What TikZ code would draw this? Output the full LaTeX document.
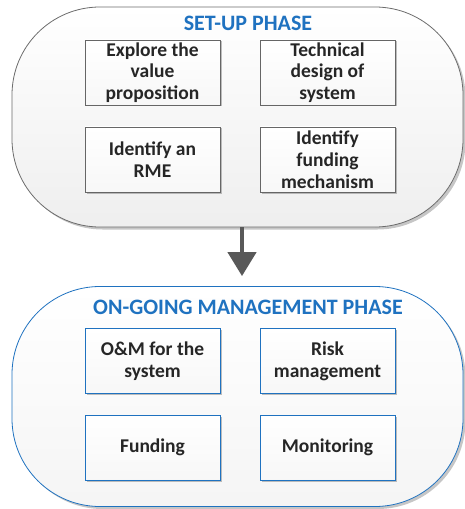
\documentclass[tikz,border=0pt]{standalone}
\usepackage{fontspec}
\setmainfont{Carlito}
\usetikzlibrary{shadows,arrows.meta}
\definecolor{phaseblue}{HTML}{1F72C0}
\definecolor{arrowgray}{HTML}{595959}
\tikzset{
  capsule/.style={draw, line width=0.8bp, rounded corners=88bp, minimum width=451bp, minimum height=220bp, inner sep=0pt,
     drop shadow={shadow xshift=2.5bp, shadow yshift=-2.5bp, opacity=0.45, fill=gray}},
  setupcap/.style={capsule, draw=gray!85!black, top color=white, bottom color=gray!13},
  ongoingcap/.style={capsule, draw=phaseblue, top color=white, bottom color=gray!8},
  phasetitle/.style={text=phaseblue, font=\fontsize{22bp}{25bp}\selectfont\bfseries, inner sep=0pt},
  taskbox/.style={minimum width=135bp, minimum height=65bp, inner sep=1bp, align=center,
     font=\fontsize{19.5bp}{21.8bp}\selectfont\bfseries, text=black!85,
     top color=white, bottom color=gray!6,
     drop shadow={shadow xshift=1.5bp, shadow yshift=-1.5bp, opacity=0.5, fill=gray}},
  setupbox/.style={taskbox, draw=gray!80!black, line width=0.7bp},
  ongoingbox/.style={taskbox, draw=phaseblue, line width=0.8bp},
  phasearrow/.style={draw=arrowgray, line width=4.5bp, -{Triangle[width=28bp,length=24bp]}, shorten >=10bp}
}
\begin{document}
\begin{tikzpicture}[x=1bp,y=-1bp]
\useasboundingbox (0,0) rectangle (465,509);
% set-up phase
\node[setupcap] (setup) at (237.5,117) {};
\node[phasetitle] (setuptitle) at (248,23) {SET-UP PHASE};
\node[setupbox] (explore) at (152.5,72.5) {Explore the\\value\\proposition};
\node[setupbox] (technical) at (327.5,72.5) {Technical\\design of\\system};
\node[setupbox] (rme) at (152.5,159.5) {Identify an\\RME};
\node[setupbox] (fundmech) at (327.5,159.5) {Identify\\funding\\mechanism};
% on-going phase
\node[ongoingcap] (ongoing) at (237.5,396.5) {};
\node[phasetitle] (ongoingtitle) at (248,307) {ON-GOING MANAGEMENT PHASE};
\node[ongoingbox] (om) at (152.5,361) {O\&M for the\\system};
\node[ongoingbox] (risk) at (327.5,361) {Risk\\management};
\node[ongoingbox] (funding) at (152.5,447.5) {Funding};
\node[ongoingbox] (monitoring) at (327.5,447.5) {Monitoring};
% arrow
\draw[phasearrow] (setup.south -| 242,0) -- (ongoing.north -| 242,0);
\end{tikzpicture}
\end{document}
